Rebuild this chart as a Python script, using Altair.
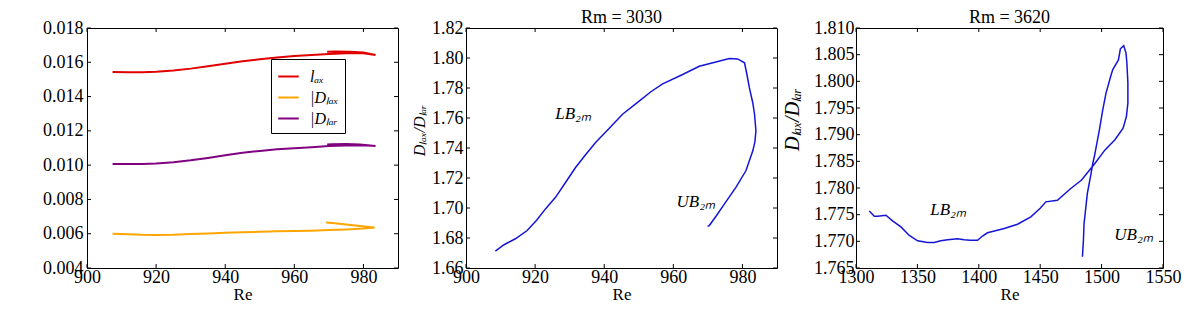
import altair as alt
import pandas as pd

FONT = "Liberation Serif"

# ---------------- Panel 1 data ----------------
lax_re = [907.4, 912, 916, 920, 925, 930, 935, 940, 945, 950, 955, 960, 965, 970, 975, 980, 983.5, 980, 976, 972, 969.5]
lax_val = [0.01544, 0.01542, 0.01542, 0.01545, 0.01552, 0.01563, 0.01577, 0.01592, 0.01606, 0.01618, 0.01628,
           0.01636, 0.01642, 0.01648, 0.01653, 0.01652, 0.01643, 0.01657, 0.01662, 0.01663, 0.01661]

dx_re = [907.4, 912, 916, 920, 925, 930, 935, 940, 945, 950, 955, 960, 965, 970, 975, 980, 983.2, 979, 975, 971, 969.2]
dx_val = [0.00600, 0.00597, 0.00594, 0.00593, 0.00594, 0.00598, 0.00601, 0.00605, 0.00608, 0.00611, 0.00614,
          0.00616, 0.00618, 0.00621, 0.00625, 0.00630, 0.00636, 0.00645, 0.00654, 0.00662, 0.00666]

dr_re = [907.4, 912, 916, 920, 925, 930, 935, 940, 945, 950, 955, 960, 965, 970, 975, 980, 983.5, 979, 975, 971, 969.5]
dr_val = [0.01007, 0.01006, 0.01007, 0.01010, 0.01017, 0.01028, 0.01042, 0.01058, 0.01072, 0.01083, 0.01092,
          0.01099, 0.01105, 0.01111, 0.01115, 0.01116, 0.01112, 0.01121, 0.01123, 0.01122, 0.01120]

series_names = ["lₐₓ", "|Dₗₐₓ", "|Dₗₐᵣ"]
series_colors = ["#e00000", "#ffa500", "#800080"]

# ---------------- Panel 2 data (Rm = 3030) ----------------
re2 = [908.5, 911, 914.3, 917.7, 920.5, 923.0, 925.9, 928.8, 931.7, 934.6, 937.5, 941.4, 945.3, 950.1, 953.5,
       956.9, 962.7, 967.5, 972.3, 976.2, 978.6, 980.6, 981.3, 982.0, 983.0, 983.5, 983.9, 983.6, 983.0, 981.0,
       978.1, 974.8, 972.5, 970.4, 969.9]
val2 = [1.6713, 1.6755, 1.6795, 1.6850, 1.6920, 1.6994, 1.7071, 1.7170, 1.7270, 1.7355, 1.7437, 1.7530, 1.7625,
        1.7713, 1.7775, 1.7828, 1.7890, 1.7945, 1.7974, 1.7996, 1.7994, 1.7968, 1.7890, 1.7802, 1.7700, 1.7625,
        1.7514, 1.7440, 1.7381, 1.7248, 1.7138, 1.7027, 1.6950, 1.6883, 1.6877]

# ---------------- Panel 3 data (Rm = 3620) ----------------
re3 = [1310.8, 1314.9, 1317.6, 1324.4, 1330, 1336.6, 1343.4, 1350.2, 1358.3, 1363.7, 1369, 1374.6, 1382.7, 1388.1,
       1393, 1399.0, 1403, 1407.1, 1420.7, 1431.5, 1442.4, 1450, 1454.6, 1464.0, 1474.9, 1483.7, 1494.5, 1502.6,
       1510.7, 1517.5, 1520.2, 1521.4, 1521.4, 1520.6, 1519.9, 1518.0, 1515.3, 1513.7, 1509.1, 1507.7, 1503.6,
       1500.9, 1498.2, 1494.1, 1492.8, 1491.4, 1488.4, 1485.7, 1485.2, 1484.4]
val3 = [1.7757, 1.7747, 1.7747, 1.7749, 1.7738, 1.7727, 1.7711, 1.7701, 1.7698, 1.7698, 1.7701, 1.7703, 1.7705,
        1.7703, 1.7702, 1.7702, 1.7710, 1.7716, 1.7724, 1.7732, 1.7746, 1.7762, 1.7774, 1.7777, 1.7799, 1.7815,
        1.7846, 1.7871, 1.7890, 1.7912, 1.7934, 1.7959, 1.7997, 1.8034, 1.8053, 1.8067, 1.8061, 1.8040, 1.8022,
        1.8012, 1.7978, 1.7946, 1.7909, 1.7859, 1.7846, 1.7827, 1.7790, 1.7733, 1.7702, 1.7671]

# annotations
ann2_text = ["LB₂ₘ", "UB₂ₘ"]
ann2_re = [931.0, 966.5]
ann2_val = [1.763, 1.704]
ann3_text = ["LB₂ₘ", "UB₂ₘ"]
ann3_re = [1375.0, 1526.0]
ann3_val = [1.7759, 1.7712]

# ticks
x12_ticks = [900, 920, 940, 960, 980]
y1_ticks = [0.004, 0.006, 0.008, 0.010, 0.012, 0.014, 0.016, 0.018]
y2_ticks = [1.66, 1.68, 1.70, 1.72, 1.74, 1.76, 1.78, 1.80, 1.82]
x3_ticks = [1300, 1350, 1400, 1450, 1500, 1550]
y3_ticks = [1.765, 1.770, 1.775, 1.780, 1.785, 1.790, 1.795, 1.800, 1.805, 1.810]

W1, W2, W3 = 311, 311, 307
H = 240
TL = 4


def xaxis(vals):
    return alt.Axis(values=vals, title="Re", format="d", labelFontSize=18, labelPadding=0,
                    labelFlush=False, labelOverlap=False, titlePadding=0)


def yaxis(vals, fmt, title, ext, tpad, lpad, tsize=17, ty=None):
    kw = dict(values=vals, format=fmt, minExtent=ext, maxExtent=ext, labelPadding=lpad,
              labelOverlap=False, labelFlush=False, labelFontSize=18)
    if title:
        kw.update(title=title, titleFontStyle="italic", titlePadding=tpad, titleFontSize=tsize)
        if ty is not None:
            kw.update(titleY=ty)
    else:
        kw.update(title=None)
    return alt.Axis(**kw)


def panel(main_layers, xticks, yticks, xsc, ysc, xax, yax, W, title):
    xt = pd.DataFrame({"Re": xticks})
    yt = pd.DataFrame({"val": yticks})
    rule = dict(color="black", strokeWidth=1)
    X = alt.X("Re:Q", scale=xsc, axis=xax)
    Y = alt.Y("val:Q", scale=ysc, axis=yax)
    b = alt.Chart(xt).mark_rule(**rule).encode(x=X, y=alt.value(H), y2=alt.value(H - TL))
    t = alt.Chart(xt).mark_rule(**rule).encode(x=X, y=alt.value(0), y2=alt.value(TL))
    l = alt.Chart(yt).mark_rule(**rule).encode(y=Y, x=alt.value(0), x2=alt.value(TL))
    r = alt.Chart(yt).mark_rule(**rule).encode(y=Y, x=alt.value(W), x2=alt.value(W - TL))
    return alt.layer(*main_layers, b, t, l, r).properties(
        width=W, height=H,
        title=alt.Title(title, font=FONT, fontSize=18, fontWeight="normal", color="black", offset=-8))


# ---------- panel 1 ----------
rows = []
for name, xs_, vs_ in zip(series_names, [lax_re, dx_re, dr_re], [lax_val, dx_val, dr_val]):
    for i, (a, b) in enumerate(zip(xs_, vs_)):
        rows.append({"Re": a, "val": b, "series": name, "idx": i})
df1 = pd.DataFrame(rows)

xs1 = alt.Scale(domain=[900, 990], nice=False, zero=False)
ys1 = alt.Scale(domain=[0.004, 0.018], nice=False, zero=False)
xa1 = xaxis(x12_ticks)
ya1 = yaxis(y1_ticks, ".3f", None, 46, 0, 4)
lines1 = alt.Chart(df1).mark_line(strokeWidth=2).encode(
    x=alt.X("Re:Q", scale=xs1, axis=xa1),
    y=alt.Y("val:Q", scale=ys1, axis=ya1),
    color=alt.Color("series:N", sort=series_names,
                    scale=alt.Scale(domain=series_names, range=series_colors),
                    legend=alt.Legend(orient="none", legendX=184, legendY=31, title=None,
                                      strokeColor="black", fillColor="white", padding=6,
                                      symbolType="stroke", symbolStrokeWidth=2, symbolSize=420,
                                      labelFont=FONT, labelFontStyle="italic", labelFontSize=16,
                                      labelOffset=10, rowPadding=1)),
    order="idx:Q",
)
p1 = panel([lines1], x12_ticks, y1_ticks, xs1, ys1, xa1, ya1, W1, " ")

# ---------- panel 2 ----------
df2 = pd.DataFrame({"Re": re2, "val": val2, "idx": range(len(re2))})
a2 = pd.DataFrame({"Re": ann2_re, "val": ann2_val, "txt": ann2_text})
xs2 = alt.Scale(domain=[900, 990], nice=False, zero=False)
ys2 = alt.Scale(domain=[1.66, 1.82], nice=False, zero=False)
xa2 = xaxis(x12_ticks)
ya2 = yaxis(y2_ticks, ".2f", "Dₗₐₓ/Dₗₐᵣ", 36, 3, 3, tsize=16, ty=102)
line2 = alt.Chart(df2).mark_line(strokeWidth=1.5, color="#1515d8").encode(
    x=alt.X("Re:Q", scale=xs2, axis=xa2), y=alt.Y("val:Q", scale=ys2, axis=ya2), order="idx:Q")
text2 = alt.Chart(a2).mark_text(font=FONT, fontSize=17, fontStyle="italic", color="black").encode(
    x=alt.X("Re:Q", scale=xs2, axis=xa2), y=alt.Y("val:Q", scale=ys2, axis=ya2), text="txt:N")
p2 = panel([line2, text2], x12_ticks, y2_ticks, xs2, ys2, xa2, ya2, W2, "Rm = 3030")

# ---------- panel 3 ----------
df3 = pd.DataFrame({"Re": re3, "val": val3, "idx": range(len(re3))})
a3 = pd.DataFrame({"Re": ann3_re, "val": ann3_val, "txt": ann3_text})
xs3 = alt.Scale(domain=[1300, 1550], nice=False, zero=False)
ys3 = alt.Scale(domain=[1.765, 1.810], nice=False, zero=False)
xa3 = xaxis(x3_ticks)
ya3 = yaxis(y3_ticks, ".3f", "Dₗₐₓ/Dₗₐᵣ", 48, 6, 2, tsize=20, ty=91)
line3 = alt.Chart(df3).mark_line(strokeWidth=1.5, color="#1515d8").encode(
    x=alt.X("Re:Q", scale=xs3, axis=xa3), y=alt.Y("val:Q", scale=ys3, axis=ya3), order="idx:Q")
text3 = alt.Chart(a3).mark_text(font=FONT, fontSize=17, fontStyle="italic", color="black").encode(
    x=alt.X("Re:Q", scale=xs3, axis=xa3), y=alt.Y("val:Q", scale=ys3, axis=ya3), text="txt:N")
p3 = panel([line3, text3], x3_ticks, y3_ticks, xs3, ys3, xa3, ya3, W3, "Rm = 3620")

chart = alt.hconcat(alt.hconcat(p1, p2, spacing=11), p3, spacing=3).properties(
    padding={"left": 32, "top": 0, "right": 0, "bottom": 0}
).configure(font=FONT).configure_view(stroke="black", strokeWidth=1).configure_axis(
    labelFont=FONT, titleFont=FONT, labelFontSize=18, titleFontSize=17, titleFontWeight="normal",
    labelColor="black", titleColor="black", ticks=False, domain=False, grid=False,
    labelOverlap=False, labelFlush=False, labelBound=False
)

chart.save("out.html", embed_options={"renderer": "svg", "actions": False})
